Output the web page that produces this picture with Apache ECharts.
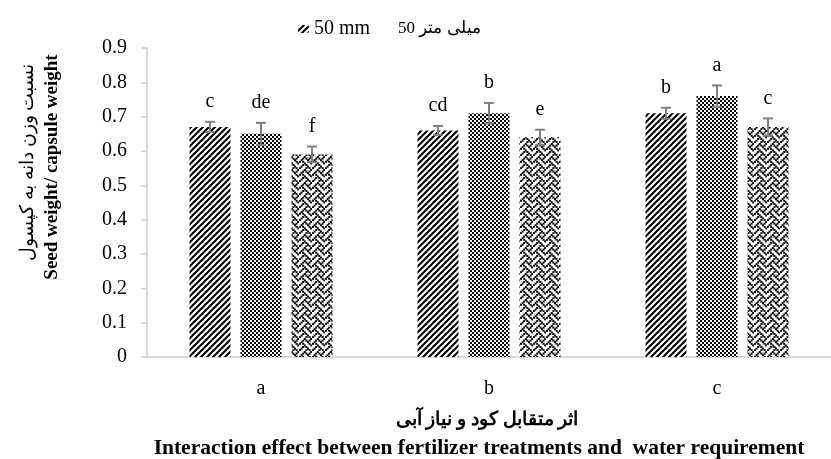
<!DOCTYPE html>
<html>
<head>
<meta charset="utf-8">
<script src="https://cdn.jsdelivr.net/npm/echarts@6/dist/echarts.min.js"></script>
<style>
html,body{margin:0;padding:0;background:#fff;}
#chart{width:831px;height:459px;}
</style>
</head>
<body>
<div id="chart"></div>
<script>
// ---- data ----
var categories = ['a', 'b', 'c'];
var seriesNames = ['50 mm     میلی متر 50', '100 mm', '150 mm'];
var values1 = [0.67, 0.66, 0.71];
var values2 = [0.65, 0.71, 0.76];
var values3 = [0.59, 0.64, 0.67];
var errors1 = [0.015, 0.013, 0.016];
var errors2 = [0.032, 0.030, 0.031];
var errors3 = [0.023, 0.022, 0.025];
var letters1 = ['c', 'cd', 'b'];
var letters2 = ['de', 'b', 'a'];
var letters3 = ['f', 'e', 'c'];
var yTicks = [0, 0.1, 0.2, 0.3, 0.4, 0.5, 0.6, 0.7, 0.8, 0.9];

var FONT = '"Liberation Serif", "Times New Roman", serif';

// ---- pattern textures ----
function stripeTile() {
  var c = document.createElement('canvas'); c.width = 6; c.height = 6;
  var x = c.getContext('2d');
  x.fillStyle = '#fff'; x.fillRect(0, 0, 6, 6);
  x.strokeStyle = '#000'; x.lineWidth = 2;
  x.beginPath();
  x.moveTo(0, 6); x.lineTo(6, 0);
  x.moveTo(-1, 1); x.lineTo(1, -1);
  x.moveTo(5, 7); x.lineTo(7, 5);
  x.stroke();
  return c;
}
function checkerTile() {
  var c = document.createElement('canvas'); c.width = 4; c.height = 4;
  var x = c.getContext('2d');
  x.fillStyle = '#fff'; x.fillRect(0, 0, 4, 4);
  x.fillStyle = '#000';
  x.fillRect(0, 0, 2, 2); x.fillRect(2, 2, 2, 2);
  return c;
}
function weaveTile() {
  var bits = [0x11, 0x2a, 0x44, 0xa2, 0x11, 0x28, 0x44, 0x8a];
  var s = 1.6, n = Math.round(8 * s);
  var c = document.createElement('canvas'); c.width = n; c.height = n;
  var x = c.getContext('2d');
  x.fillStyle = '#fff'; x.fillRect(0, 0, n, n);
  x.fillStyle = '#000';
  for (var r = 0; r < 8; r++) {
    for (var k = 0; k < 8; k++) {
      if (bits[r] & (0x80 >> k)) x.fillRect(k * s, r * s, s + 0.4, s + 0.4);
    }
  }
  return c;
}
var patterns = [
  { image: stripeTile(), repeat: 'repeat' },
  { image: checkerTile(), repeat: 'repeat' },
  { image: weaveTile(), repeat: 'repeat' }
];

var allValues = [values1, values2, values3];
var allErrors = [errors1, errors2, errors3];
var allLetters = [letters1, letters2, letters3];

var BAR_W = 41, BAR_GAP = 10;

var series = [];
allValues.forEach(function (vals, i) {
  series.push({
    name: seriesNames[i],
    type: 'bar',
    data: vals,
    barWidth: BAR_W,
    barGap: (BAR_GAP / BAR_W * 100) + '%',
    itemStyle: { color: patterns[i] },
    z: 2
  });
});
allValues.forEach(function (vals, i) {
  var data = vals.map(function (v, j) { return [j, v, allErrors[i][j]]; });
  series.push({
    name: 'err' + i,
    type: 'custom',
    data: data,
    z: 5,
    silent: true,
    encode: { x: 0, y: 1 },
    renderItem: function (params, api) {
      var cat = api.value(0), v = api.value(1), e = api.value(2);
      var letter = allLetters[i][params.dataIndex];
      var off = (i - 1) * (BAR_W + BAR_GAP);
      var top = api.coord([cat, v + e]);
      var bot = api.coord([cat, v - e]);
      var x = top[0] + off;
      var cap = 5;
      var st = { stroke: '#7f7f7f', lineWidth: 2 };
      return {
        type: 'group',
        children: [
          { type: 'line', shape: { x1: x, y1: top[1], x2: x, y2: bot[1] }, style: st },
          { type: 'line', shape: { x1: x - cap, y1: top[1], x2: x + cap, y2: top[1] }, style: st },
          { type: 'line', shape: { x1: x - cap, y1: bot[1], x2: x + cap, y2: bot[1] }, style: st },
          { type: 'text', x: x, y: top[1] - 20,
            style: { text: letter, fill: '#000', font: '20px ' + FONT, align: 'center', verticalAlign: 'middle' } }
        ]
      };
    }
  });
});

var chart = echarts.init(document.getElementById('chart'), null, { renderer: 'canvas' });
chart.setOption({
  animation: false,
  backgroundColor: '#fff',
  textStyle: { fontFamily: FONT },
  legend: {
    data: [seriesNames[0]],
    top: 14,
    left: 293,
    itemWidth: 11,
    itemHeight: 8,
    itemGap: 4,
    formatter: function (name) {
      var parts = name.split(/\s{2,}/);
      return '{en|' + parts[0] + '}{fa|' + parts[1] + '}';
    },
    textStyle: {
      fontFamily: FONT, fontSize: 20, color: '#000',
      rich: {
        en: { fontFamily: FONT, fontSize: 20, color: '#000' },
        fa: { fontFamily: FONT, fontSize: 17, color: '#000', padding: [0, 0, 0, 28] }
      }
    }
  },
  grid: { left: 147, right: -12, top: 48, bottom: 102, containLabel: false },
  xAxis: {
    type: 'category',
    data: categories,
    axisLine: { lineStyle: { color: '#d9d9d9', width: 2 } },
    axisTick: { show: false },
    axisLabel: { fontFamily: FONT, fontSize: 20, color: '#000', margin: 22 }
  },
  yAxis: {
    type: 'value',
    min: yTicks[0],
    max: yTicks[yTicks.length - 1],
    interval: 0.1,
    axisLine: { show: true, lineStyle: { color: '#d9d9d9', width: 2 } },
    axisTick: { show: true, length: 6, lineStyle: { color: '#d9d9d9', width: 2 } },
    splitLine: { show: false },
    axisLabel: {
      fontFamily: FONT, fontSize: 20, color: '#000', margin: 20,
      formatter: function (v) { return String(Math.round(v * 10) / 10); }
    }
  },
  graphic: [
    { type: 'text', x: 28, y: 162, rotation: Math.PI / 2,
      style: { text: 'نسبت وزن دانه به کپسول', font: '19px ' + FONT, fill: '#000', align: 'center', verticalAlign: 'middle' } },
    { type: 'text', x: 52, y: 167, rotation: Math.PI / 2,
      style: { text: 'Seed weight/ capsule weight', font: 'bold 19px ' + FONT, fill: '#000', align: 'center', verticalAlign: 'middle' } },
    { type: 'text', x: 487, y: 420,
      style: { text: 'اثر متقابل کود و نیاز آبی', font: 'bold 19px ' + FONT, fill: '#000', align: 'center', verticalAlign: 'middle' } },
    { type: 'text', x: 479, y: 448,
      style: { text: 'Interaction effect between fertilizer treatments and  water requirement', font: 'bold 21.5px ' + FONT, fill: '#000', align: 'center', verticalAlign: 'middle' } }
  ],
  series: series
});
</script>
</body>
</html>
